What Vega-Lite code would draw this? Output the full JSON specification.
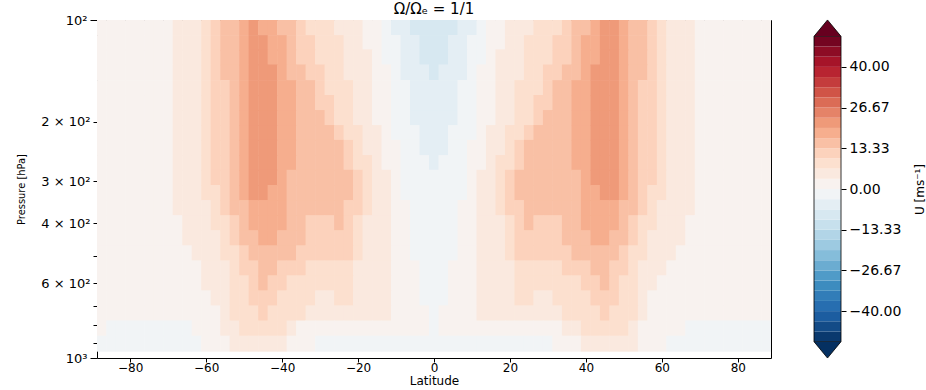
{
"$schema": "https://vega.github.io/schema/vega-lite/v6.json",
"padding": {"left": 15, "top": 1, "right": 0, "bottom": 0},
"background": "white",
"config": {"font": "DejaVu Sans", "view": {"stroke": "#000", "strokeWidth": 1}, "axis": {"domain": false, "grid": false, "tickColor": "#000", "labelColor": "#000", "titleColor": "#000", "titleFontWeight": "normal", "labelOverlap": false, "labelFlush": false}},
"spacing": 43,
"bounds": "flush",
"hconcat": [
{
"width": 674, "height": 338,
"title": {"text": "Ω/Ωₑ = 1/1", "fontSize": 15, "fontWeight": "normal", "offset": -3, "anchor": "middle", "color": "#000"},
"data": {"values": [
{"lat":-87.5,"p":105,"u":2},{"lat":-85,"p":105,"u":2},{"lat":-82.5,"p":105,"u":2},{"lat":-80,"p":105,"u":2},{"lat":-77.5,"p":105,"u":2},{"lat":-75,"p":105,"u":2},{"lat":-72.5,"p":105,"u":2},{"lat":-70,"p":105,"u":2},{"lat":-67.5,"p":105,"u":5},{"lat":-65,"p":105,"u":5},
{"lat":-62.5,"p":105,"u":5},{"lat":-60,"p":105,"u":8},{"lat":-57.5,"p":105,"u":12},{"lat":-55,"p":105,"u":15},{"lat":-52.5,"p":105,"u":15},{"lat":-50,"p":105,"u":18},{"lat":-47.5,"p":105,"u":22},{"lat":-45,"p":105,"u":18},{"lat":-42.5,"p":105,"u":18},{"lat":-40,"p":105,"u":15},
{"lat":-37.5,"p":105,"u":15},{"lat":-35,"p":105,"u":12},{"lat":-32.5,"p":105,"u":8},{"lat":-30,"p":105,"u":8},{"lat":-27.5,"p":105,"u":8},{"lat":-25,"p":105,"u":5},{"lat":-22.5,"p":105,"u":5},{"lat":-20,"p":105,"u":5},{"lat":-17.5,"p":105,"u":2},{"lat":-15,"p":105,"u":2},
{"lat":-12.5,"p":105,"u":-2},{"lat":-10,"p":105,"u":-5},{"lat":-7.5,"p":105,"u":-5},{"lat":-5,"p":105,"u":-8},{"lat":-2.5,"p":105,"u":-8},{"lat":0,"p":105,"u":-8},{"lat":2.5,"p":105,"u":-8},{"lat":5,"p":105,"u":-8},{"lat":7.5,"p":105,"u":-5},{"lat":10,"p":105,"u":-5},
{"lat":12.5,"p":105,"u":-2},{"lat":15,"p":105,"u":2},{"lat":17.5,"p":105,"u":2},{"lat":20,"p":105,"u":5},{"lat":22.5,"p":105,"u":5},{"lat":25,"p":105,"u":5},{"lat":27.5,"p":105,"u":8},{"lat":30,"p":105,"u":8},{"lat":32.5,"p":105,"u":8},{"lat":35,"p":105,"u":12},
{"lat":37.5,"p":105,"u":15},{"lat":40,"p":105,"u":15},{"lat":42.5,"p":105,"u":18},{"lat":45,"p":105,"u":22},{"lat":47.5,"p":105,"u":22},{"lat":50,"p":105,"u":18},{"lat":52.5,"p":105,"u":15},{"lat":55,"p":105,"u":15},{"lat":57.5,"p":105,"u":12},{"lat":60,"p":105,"u":8},
{"lat":62.5,"p":105,"u":5},{"lat":65,"p":105,"u":5},{"lat":67.5,"p":105,"u":5},{"lat":70,"p":105,"u":2},{"lat":72.5,"p":105,"u":2},{"lat":75,"p":105,"u":2},{"lat":77.5,"p":105,"u":2},{"lat":80,"p":105,"u":2},{"lat":82.5,"p":105,"u":2},{"lat":85,"p":105,"u":2},{"lat":87.5,"p":105,"u":2},

{"lat":-87.5,"p":117,"u":2},{"lat":-85,"p":117,"u":2},{"lat":-82.5,"p":117,"u":2},{"lat":-80,"p":117,"u":2},{"lat":-77.5,"p":117,"u":2},{"lat":-75,"p":117,"u":2},{"lat":-72.5,"p":117,"u":2},{"lat":-70,"p":117,"u":2},{"lat":-67.5,"p":117,"u":5},{"lat":-65,"p":117,"u":5},
{"lat":-62.5,"p":117,"u":5},{"lat":-60,"p":117,"u":8},{"lat":-57.5,"p":117,"u":12},{"lat":-55,"p":117,"u":15},{"lat":-52.5,"p":117,"u":15},{"lat":-50,"p":117,"u":18},{"lat":-47.5,"p":117,"u":22},{"lat":-45,"p":117,"u":22},{"lat":-42.5,"p":117,"u":18},{"lat":-40,"p":117,"u":18},
{"lat":-37.5,"p":117,"u":15},{"lat":-35,"p":117,"u":12},{"lat":-32.5,"p":117,"u":12},{"lat":-30,"p":117,"u":8},{"lat":-27.5,"p":117,"u":8},{"lat":-25,"p":117,"u":8},{"lat":-22.5,"p":117,"u":5},{"lat":-20,"p":117,"u":5},{"lat":-17.5,"p":117,"u":2},{"lat":-15,"p":117,"u":2},
{"lat":-12.5,"p":117,"u":-2},{"lat":-10,"p":117,"u":-2},{"lat":-7.5,"p":117,"u":-5},{"lat":-5,"p":117,"u":-5},{"lat":-2.5,"p":117,"u":-8},{"lat":0,"p":117,"u":-8},{"lat":2.5,"p":117,"u":-8},{"lat":5,"p":117,"u":-5},{"lat":7.5,"p":117,"u":-5},{"lat":10,"p":117,"u":-2},
{"lat":12.5,"p":117,"u":-2},{"lat":15,"p":117,"u":2},{"lat":17.5,"p":117,"u":2},{"lat":20,"p":117,"u":5},{"lat":22.5,"p":117,"u":5},{"lat":25,"p":117,"u":8},{"lat":27.5,"p":117,"u":8},{"lat":30,"p":117,"u":8},{"lat":32.5,"p":117,"u":12},{"lat":35,"p":117,"u":12},
{"lat":37.5,"p":117,"u":15},{"lat":40,"p":117,"u":18},{"lat":42.5,"p":117,"u":18},{"lat":45,"p":117,"u":22},{"lat":47.5,"p":117,"u":22},{"lat":50,"p":117,"u":18},{"lat":52.5,"p":117,"u":15},{"lat":55,"p":117,"u":15},{"lat":57.5,"p":117,"u":12},{"lat":60,"p":117,"u":8},
{"lat":62.5,"p":117,"u":5},{"lat":65,"p":117,"u":5},{"lat":67.5,"p":117,"u":5},{"lat":70,"p":117,"u":2},{"lat":72.5,"p":117,"u":2},{"lat":75,"p":117,"u":2},{"lat":77.5,"p":117,"u":2},{"lat":80,"p":117,"u":2},{"lat":82.5,"p":117,"u":2},{"lat":85,"p":117,"u":2},{"lat":87.5,"p":117,"u":2},

{"lat":-87.5,"p":129,"u":2},{"lat":-85,"p":129,"u":2},{"lat":-82.5,"p":129,"u":2},{"lat":-80,"p":129,"u":2},{"lat":-77.5,"p":129,"u":2},{"lat":-75,"p":129,"u":2},{"lat":-72.5,"p":129,"u":2},{"lat":-70,"p":129,"u":2},{"lat":-67.5,"p":129,"u":5},{"lat":-65,"p":129,"u":5},
{"lat":-62.5,"p":129,"u":5},{"lat":-60,"p":129,"u":8},{"lat":-57.5,"p":129,"u":12},{"lat":-55,"p":129,"u":15},{"lat":-52.5,"p":129,"u":15},{"lat":-50,"p":129,"u":18},{"lat":-47.5,"p":129,"u":22},{"lat":-45,"p":129,"u":22},{"lat":-42.5,"p":129,"u":18},{"lat":-40,"p":129,"u":18},
{"lat":-37.5,"p":129,"u":15},{"lat":-35,"p":129,"u":12},{"lat":-32.5,"p":129,"u":12},{"lat":-30,"p":129,"u":8},{"lat":-27.5,"p":129,"u":8},{"lat":-25,"p":129,"u":8},{"lat":-22.5,"p":129,"u":5},{"lat":-20,"p":129,"u":5},{"lat":-17.5,"p":129,"u":5},{"lat":-15,"p":129,"u":2},
{"lat":-12.5,"p":129,"u":-2},{"lat":-10,"p":129,"u":-2},{"lat":-7.5,"p":129,"u":-5},{"lat":-5,"p":129,"u":-5},{"lat":-2.5,"p":129,"u":-8},{"lat":0,"p":129,"u":-8},{"lat":2.5,"p":129,"u":-8},{"lat":5,"p":129,"u":-5},{"lat":7.5,"p":129,"u":-5},{"lat":10,"p":129,"u":-2},
{"lat":12.5,"p":129,"u":-2},{"lat":15,"p":129,"u":2},{"lat":17.5,"p":129,"u":5},{"lat":20,"p":129,"u":5},{"lat":22.5,"p":129,"u":5},{"lat":25,"p":129,"u":8},{"lat":27.5,"p":129,"u":8},{"lat":30,"p":129,"u":8},{"lat":32.5,"p":129,"u":12},{"lat":35,"p":129,"u":12},
{"lat":37.5,"p":129,"u":15},{"lat":40,"p":129,"u":18},{"lat":42.5,"p":129,"u":18},{"lat":45,"p":129,"u":22},{"lat":47.5,"p":129,"u":22},{"lat":50,"p":129,"u":18},{"lat":52.5,"p":129,"u":15},{"lat":55,"p":129,"u":15},{"lat":57.5,"p":129,"u":12},{"lat":60,"p":129,"u":8},
{"lat":62.5,"p":129,"u":5},{"lat":65,"p":129,"u":5},{"lat":67.5,"p":129,"u":5},{"lat":70,"p":129,"u":2},{"lat":72.5,"p":129,"u":2},{"lat":75,"p":129,"u":2},{"lat":77.5,"p":129,"u":2},{"lat":80,"p":129,"u":2},{"lat":82.5,"p":129,"u":2},{"lat":85,"p":129,"u":2},{"lat":87.5,"p":129,"u":2},

{"lat":-87.5,"p":143,"u":2},{"lat":-85,"p":143,"u":2},{"lat":-82.5,"p":143,"u":2},{"lat":-80,"p":143,"u":2},{"lat":-77.5,"p":143,"u":2},{"lat":-75,"p":143,"u":2},{"lat":-72.5,"p":143,"u":2},{"lat":-70,"p":143,"u":2},{"lat":-67.5,"p":143,"u":5},{"lat":-65,"p":143,"u":5},
{"lat":-62.5,"p":143,"u":5},{"lat":-60,"p":143,"u":8},{"lat":-57.5,"p":143,"u":12},{"lat":-55,"p":143,"u":15},{"lat":-52.5,"p":143,"u":15},{"lat":-50,"p":143,"u":18},{"lat":-47.5,"p":143,"u":22},{"lat":-45,"p":143,"u":22},{"lat":-42.5,"p":143,"u":22},{"lat":-40,"p":143,"u":18},
{"lat":-37.5,"p":143,"u":15},{"lat":-35,"p":143,"u":15},{"lat":-32.5,"p":143,"u":12},{"lat":-30,"p":143,"u":12},{"lat":-27.5,"p":143,"u":8},{"lat":-25,"p":143,"u":8},{"lat":-22.5,"p":143,"u":5},{"lat":-20,"p":143,"u":5},{"lat":-17.5,"p":143,"u":5},{"lat":-15,"p":143,"u":2},
{"lat":-12.5,"p":143,"u":2},{"lat":-10,"p":143,"u":-2},{"lat":-7.5,"p":143,"u":-5},{"lat":-5,"p":143,"u":-5},{"lat":-2.5,"p":143,"u":-5},{"lat":0,"p":143,"u":-8},{"lat":2.5,"p":143,"u":-5},{"lat":5,"p":143,"u":-5},{"lat":7.5,"p":143,"u":-5},{"lat":10,"p":143,"u":-2},
{"lat":12.5,"p":143,"u":2},{"lat":15,"p":143,"u":2},{"lat":17.5,"p":143,"u":5},{"lat":20,"p":143,"u":5},{"lat":22.5,"p":143,"u":5},{"lat":25,"p":143,"u":8},{"lat":27.5,"p":143,"u":8},{"lat":30,"p":143,"u":12},{"lat":32.5,"p":143,"u":12},{"lat":35,"p":143,"u":15},
{"lat":37.5,"p":143,"u":15},{"lat":40,"p":143,"u":18},{"lat":42.5,"p":143,"u":22},{"lat":45,"p":143,"u":22},{"lat":47.5,"p":143,"u":22},{"lat":50,"p":143,"u":18},{"lat":52.5,"p":143,"u":15},{"lat":55,"p":143,"u":15},{"lat":57.5,"p":143,"u":12},{"lat":60,"p":143,"u":8},
{"lat":62.5,"p":143,"u":5},{"lat":65,"p":143,"u":5},{"lat":67.5,"p":143,"u":5},{"lat":70,"p":143,"u":2},{"lat":72.5,"p":143,"u":2},{"lat":75,"p":143,"u":2},{"lat":77.5,"p":143,"u":2},{"lat":80,"p":143,"u":2},{"lat":82.5,"p":143,"u":2},{"lat":85,"p":143,"u":2},{"lat":87.5,"p":143,"u":2},

{"lat":-87.5,"p":159,"u":2},{"lat":-85,"p":159,"u":2},{"lat":-82.5,"p":159,"u":2},{"lat":-80,"p":159,"u":2},{"lat":-77.5,"p":159,"u":2},{"lat":-75,"p":159,"u":2},{"lat":-72.5,"p":159,"u":2},{"lat":-70,"p":159,"u":2},{"lat":-67.5,"p":159,"u":5},{"lat":-65,"p":159,"u":5},
{"lat":-62.5,"p":159,"u":5},{"lat":-60,"p":159,"u":8},{"lat":-57.5,"p":159,"u":12},{"lat":-55,"p":159,"u":12},{"lat":-52.5,"p":159,"u":15},{"lat":-50,"p":159,"u":18},{"lat":-47.5,"p":159,"u":22},{"lat":-45,"p":159,"u":22},{"lat":-42.5,"p":159,"u":22},{"lat":-40,"p":159,"u":18},
{"lat":-37.5,"p":159,"u":18},{"lat":-35,"p":159,"u":15},{"lat":-32.5,"p":159,"u":15},{"lat":-30,"p":159,"u":12},{"lat":-27.5,"p":159,"u":8},{"lat":-25,"p":159,"u":8},{"lat":-22.5,"p":159,"u":8},{"lat":-20,"p":159,"u":5},{"lat":-17.5,"p":159,"u":5},{"lat":-15,"p":159,"u":2},
{"lat":-12.5,"p":159,"u":2},{"lat":-10,"p":159,"u":-2},{"lat":-7.5,"p":159,"u":-2},{"lat":-5,"p":159,"u":-5},{"lat":-2.5,"p":159,"u":-5},{"lat":0,"p":159,"u":-5},{"lat":2.5,"p":159,"u":-5},{"lat":5,"p":159,"u":-5},{"lat":7.5,"p":159,"u":-2},{"lat":10,"p":159,"u":-2},
{"lat":12.5,"p":159,"u":2},{"lat":15,"p":159,"u":2},{"lat":17.5,"p":159,"u":5},{"lat":20,"p":159,"u":5},{"lat":22.5,"p":159,"u":8},{"lat":25,"p":159,"u":8},{"lat":27.5,"p":159,"u":8},{"lat":30,"p":159,"u":12},{"lat":32.5,"p":159,"u":15},{"lat":35,"p":159,"u":15},
{"lat":37.5,"p":159,"u":18},{"lat":40,"p":159,"u":18},{"lat":42.5,"p":159,"u":22},{"lat":45,"p":159,"u":22},{"lat":47.5,"p":159,"u":22},{"lat":50,"p":159,"u":18},{"lat":52.5,"p":159,"u":15},{"lat":55,"p":159,"u":12},{"lat":57.5,"p":159,"u":12},{"lat":60,"p":159,"u":8},
{"lat":62.5,"p":159,"u":5},{"lat":65,"p":159,"u":5},{"lat":67.5,"p":159,"u":5},{"lat":70,"p":159,"u":2},{"lat":72.5,"p":159,"u":2},{"lat":75,"p":159,"u":2},{"lat":77.5,"p":159,"u":2},{"lat":80,"p":159,"u":2},{"lat":82.5,"p":159,"u":2},{"lat":85,"p":159,"u":2},{"lat":87.5,"p":159,"u":2},

{"lat":-87.5,"p":176,"u":2},{"lat":-85,"p":176,"u":2},{"lat":-82.5,"p":176,"u":2},{"lat":-80,"p":176,"u":2},{"lat":-77.5,"p":176,"u":2},{"lat":-75,"p":176,"u":2},{"lat":-72.5,"p":176,"u":2},{"lat":-70,"p":176,"u":2},{"lat":-67.5,"p":176,"u":5},{"lat":-65,"p":176,"u":5},
{"lat":-62.5,"p":176,"u":5},{"lat":-60,"p":176,"u":8},{"lat":-57.5,"p":176,"u":12},{"lat":-55,"p":176,"u":12},{"lat":-52.5,"p":176,"u":15},{"lat":-50,"p":176,"u":18},{"lat":-47.5,"p":176,"u":22},{"lat":-45,"p":176,"u":22},{"lat":-42.5,"p":176,"u":22},{"lat":-40,"p":176,"u":18},
{"lat":-37.5,"p":176,"u":18},{"lat":-35,"p":176,"u":15},{"lat":-32.5,"p":176,"u":15},{"lat":-30,"p":176,"u":12},{"lat":-27.5,"p":176,"u":12},{"lat":-25,"p":176,"u":8},{"lat":-22.5,"p":176,"u":8},{"lat":-20,"p":176,"u":5},{"lat":-17.5,"p":176,"u":5},{"lat":-15,"p":176,"u":2},
{"lat":-12.5,"p":176,"u":2},{"lat":-10,"p":176,"u":-2},{"lat":-7.5,"p":176,"u":-2},{"lat":-5,"p":176,"u":-5},{"lat":-2.5,"p":176,"u":-5},{"lat":0,"p":176,"u":-5},{"lat":2.5,"p":176,"u":-5},{"lat":5,"p":176,"u":-5},{"lat":7.5,"p":176,"u":-2},{"lat":10,"p":176,"u":-2},
{"lat":12.5,"p":176,"u":2},{"lat":15,"p":176,"u":2},{"lat":17.5,"p":176,"u":5},{"lat":20,"p":176,"u":5},{"lat":22.5,"p":176,"u":8},{"lat":25,"p":176,"u":8},{"lat":27.5,"p":176,"u":12},{"lat":30,"p":176,"u":12},{"lat":32.5,"p":176,"u":15},{"lat":35,"p":176,"u":15},
{"lat":37.5,"p":176,"u":18},{"lat":40,"p":176,"u":18},{"lat":42.5,"p":176,"u":22},{"lat":45,"p":176,"u":22},{"lat":47.5,"p":176,"u":22},{"lat":50,"p":176,"u":18},{"lat":52.5,"p":176,"u":15},{"lat":55,"p":176,"u":12},{"lat":57.5,"p":176,"u":12},{"lat":60,"p":176,"u":8},
{"lat":62.5,"p":176,"u":5},{"lat":65,"p":176,"u":5},{"lat":67.5,"p":176,"u":5},{"lat":70,"p":176,"u":2},{"lat":72.5,"p":176,"u":2},{"lat":75,"p":176,"u":2},{"lat":77.5,"p":176,"u":2},{"lat":80,"p":176,"u":2},{"lat":82.5,"p":176,"u":2},{"lat":85,"p":176,"u":2},{"lat":87.5,"p":176,"u":2},

{"lat":-87.5,"p":195,"u":2},{"lat":-85,"p":195,"u":2},{"lat":-82.5,"p":195,"u":2},{"lat":-80,"p":195,"u":2},{"lat":-77.5,"p":195,"u":2},{"lat":-75,"p":195,"u":2},{"lat":-72.5,"p":195,"u":2},{"lat":-70,"p":195,"u":2},{"lat":-67.5,"p":195,"u":5},{"lat":-65,"p":195,"u":5},
{"lat":-62.5,"p":195,"u":5},{"lat":-60,"p":195,"u":8},{"lat":-57.5,"p":195,"u":12},{"lat":-55,"p":195,"u":12},{"lat":-52.5,"p":195,"u":15},{"lat":-50,"p":195,"u":18},{"lat":-47.5,"p":195,"u":22},{"lat":-45,"p":195,"u":22},{"lat":-42.5,"p":195,"u":22},{"lat":-40,"p":195,"u":18},
{"lat":-37.5,"p":195,"u":18},{"lat":-35,"p":195,"u":15},{"lat":-32.5,"p":195,"u":15},{"lat":-30,"p":195,"u":15},{"lat":-27.5,"p":195,"u":12},{"lat":-25,"p":195,"u":8},{"lat":-22.5,"p":195,"u":8},{"lat":-20,"p":195,"u":5},{"lat":-17.5,"p":195,"u":5},{"lat":-15,"p":195,"u":2},
{"lat":-12.5,"p":195,"u":2},{"lat":-10,"p":195,"u":-2},{"lat":-7.5,"p":195,"u":-2},{"lat":-5,"p":195,"u":-5},{"lat":-2.5,"p":195,"u":-5},{"lat":0,"p":195,"u":-5},{"lat":2.5,"p":195,"u":-5},{"lat":5,"p":195,"u":-5},{"lat":7.5,"p":195,"u":-2},{"lat":10,"p":195,"u":-2},
{"lat":12.5,"p":195,"u":2},{"lat":15,"p":195,"u":2},{"lat":17.5,"p":195,"u":5},{"lat":20,"p":195,"u":5},{"lat":22.5,"p":195,"u":8},{"lat":25,"p":195,"u":8},{"lat":27.5,"p":195,"u":12},{"lat":30,"p":195,"u":15},{"lat":32.5,"p":195,"u":15},{"lat":35,"p":195,"u":15},
{"lat":37.5,"p":195,"u":18},{"lat":40,"p":195,"u":18},{"lat":42.5,"p":195,"u":22},{"lat":45,"p":195,"u":22},{"lat":47.5,"p":195,"u":22},{"lat":50,"p":195,"u":18},{"lat":52.5,"p":195,"u":15},{"lat":55,"p":195,"u":12},{"lat":57.5,"p":195,"u":12},{"lat":60,"p":195,"u":8},
{"lat":62.5,"p":195,"u":5},{"lat":65,"p":195,"u":5},{"lat":67.5,"p":195,"u":5},{"lat":70,"p":195,"u":2},{"lat":72.5,"p":195,"u":2},{"lat":75,"p":195,"u":2},{"lat":77.5,"p":195,"u":2},{"lat":80,"p":195,"u":2},{"lat":82.5,"p":195,"u":2},{"lat":85,"p":195,"u":2},{"lat":87.5,"p":195,"u":2},

{"lat":-87.5,"p":216,"u":2},{"lat":-85,"p":216,"u":2},{"lat":-82.5,"p":216,"u":2},{"lat":-80,"p":216,"u":2},{"lat":-77.5,"p":216,"u":2},{"lat":-75,"p":216,"u":2},{"lat":-72.5,"p":216,"u":2},{"lat":-70,"p":216,"u":2},{"lat":-67.5,"p":216,"u":5},{"lat":-65,"p":216,"u":5},
{"lat":-62.5,"p":216,"u":5},{"lat":-60,"p":216,"u":8},{"lat":-57.5,"p":216,"u":12},{"lat":-55,"p":216,"u":12},{"lat":-52.5,"p":216,"u":15},{"lat":-50,"p":216,"u":18},{"lat":-47.5,"p":216,"u":22},{"lat":-45,"p":216,"u":22},{"lat":-42.5,"p":216,"u":22},{"lat":-40,"p":216,"u":18},
{"lat":-37.5,"p":216,"u":18},{"lat":-35,"p":216,"u":15},{"lat":-32.5,"p":216,"u":15},{"lat":-30,"p":216,"u":15},{"lat":-27.5,"p":216,"u":15},{"lat":-25,"p":216,"u":12},{"lat":-22.5,"p":216,"u":8},{"lat":-20,"p":216,"u":8},{"lat":-17.5,"p":216,"u":5},{"lat":-15,"p":216,"u":5},
{"lat":-12.5,"p":216,"u":2},{"lat":-10,"p":216,"u":-2},{"lat":-7.5,"p":216,"u":-2},{"lat":-5,"p":216,"u":-2},{"lat":-2.5,"p":216,"u":-5},{"lat":0,"p":216,"u":-5},{"lat":2.5,"p":216,"u":-5},{"lat":5,"p":216,"u":-2},{"lat":7.5,"p":216,"u":-2},{"lat":10,"p":216,"u":-2},
{"lat":12.5,"p":216,"u":2},{"lat":15,"p":216,"u":5},{"lat":17.5,"p":216,"u":5},{"lat":20,"p":216,"u":8},{"lat":22.5,"p":216,"u":8},{"lat":25,"p":216,"u":12},{"lat":27.5,"p":216,"u":15},{"lat":30,"p":216,"u":15},{"lat":32.5,"p":216,"u":15},{"lat":35,"p":216,"u":15},
{"lat":37.5,"p":216,"u":18},{"lat":40,"p":216,"u":18},{"lat":42.5,"p":216,"u":22},{"lat":45,"p":216,"u":22},{"lat":47.5,"p":216,"u":22},{"lat":50,"p":216,"u":18},{"lat":52.5,"p":216,"u":15},{"lat":55,"p":216,"u":12},{"lat":57.5,"p":216,"u":12},{"lat":60,"p":216,"u":8},
{"lat":62.5,"p":216,"u":5},{"lat":65,"p":216,"u":5},{"lat":67.5,"p":216,"u":5},{"lat":70,"p":216,"u":2},{"lat":72.5,"p":216,"u":2},{"lat":75,"p":216,"u":2},{"lat":77.5,"p":216,"u":2},{"lat":80,"p":216,"u":2},{"lat":82.5,"p":216,"u":2},{"lat":85,"p":216,"u":2},{"lat":87.5,"p":216,"u":2},

{"lat":-87.5,"p":239,"u":2},{"lat":-85,"p":239,"u":2},{"lat":-82.5,"p":239,"u":2},{"lat":-80,"p":239,"u":2},{"lat":-77.5,"p":239,"u":2},{"lat":-75,"p":239,"u":2},{"lat":-72.5,"p":239,"u":2},{"lat":-70,"p":239,"u":2},{"lat":-67.5,"p":239,"u":5},{"lat":-65,"p":239,"u":5},
{"lat":-62.5,"p":239,"u":5},{"lat":-60,"p":239,"u":8},{"lat":-57.5,"p":239,"u":12},{"lat":-55,"p":239,"u":12},{"lat":-52.5,"p":239,"u":15},{"lat":-50,"p":239,"u":18},{"lat":-47.5,"p":239,"u":22},{"lat":-45,"p":239,"u":22},{"lat":-42.5,"p":239,"u":22},{"lat":-40,"p":239,"u":18},
{"lat":-37.5,"p":239,"u":18},{"lat":-35,"p":239,"u":15},{"lat":-32.5,"p":239,"u":15},{"lat":-30,"p":239,"u":15},{"lat":-27.5,"p":239,"u":15},{"lat":-25,"p":239,"u":15},{"lat":-22.5,"p":239,"u":12},{"lat":-20,"p":239,"u":8},{"lat":-17.5,"p":239,"u":5},{"lat":-15,"p":239,"u":5},
{"lat":-12.5,"p":239,"u":2},{"lat":-10,"p":239,"u":2},{"lat":-7.5,"p":239,"u":-2},{"lat":-5,"p":239,"u":-2},{"lat":-2.5,"p":239,"u":-5},{"lat":0,"p":239,"u":-5},{"lat":2.5,"p":239,"u":-5},{"lat":5,"p":239,"u":-2},{"lat":7.5,"p":239,"u":-2},{"lat":10,"p":239,"u":2},
{"lat":12.5,"p":239,"u":2},{"lat":15,"p":239,"u":5},{"lat":17.5,"p":239,"u":5},{"lat":20,"p":239,"u":8},{"lat":22.5,"p":239,"u":12},{"lat":25,"p":239,"u":15},{"lat":27.5,"p":239,"u":15},{"lat":30,"p":239,"u":15},{"lat":32.5,"p":239,"u":15},{"lat":35,"p":239,"u":15},
{"lat":37.5,"p":239,"u":18},{"lat":40,"p":239,"u":18},{"lat":42.5,"p":239,"u":22},{"lat":45,"p":239,"u":22},{"lat":47.5,"p":239,"u":22},{"lat":50,"p":239,"u":18},{"lat":52.5,"p":239,"u":15},{"lat":55,"p":239,"u":12},{"lat":57.5,"p":239,"u":12},{"lat":60,"p":239,"u":8},
{"lat":62.5,"p":239,"u":5},{"lat":65,"p":239,"u":5},{"lat":67.5,"p":239,"u":5},{"lat":70,"p":239,"u":2},{"lat":72.5,"p":239,"u":2},{"lat":75,"p":239,"u":2},{"lat":77.5,"p":239,"u":2},{"lat":80,"p":239,"u":2},{"lat":82.5,"p":239,"u":2},{"lat":85,"p":239,"u":2},{"lat":87.5,"p":239,"u":2},

{"lat":-87.5,"p":265,"u":2},{"lat":-85,"p":265,"u":2},{"lat":-82.5,"p":265,"u":2},{"lat":-80,"p":265,"u":2},{"lat":-77.5,"p":265,"u":2},{"lat":-75,"p":265,"u":2},{"lat":-72.5,"p":265,"u":2},{"lat":-70,"p":265,"u":2},{"lat":-67.5,"p":265,"u":5},{"lat":-65,"p":265,"u":5},
{"lat":-62.5,"p":265,"u":5},{"lat":-60,"p":265,"u":8},{"lat":-57.5,"p":265,"u":12},{"lat":-55,"p":265,"u":12},{"lat":-52.5,"p":265,"u":15},{"lat":-50,"p":265,"u":18},{"lat":-47.5,"p":265,"u":22},{"lat":-45,"p":265,"u":22},{"lat":-42.5,"p":265,"u":22},{"lat":-40,"p":265,"u":18},
{"lat":-37.5,"p":265,"u":18},{"lat":-35,"p":265,"u":15},{"lat":-32.5,"p":265,"u":15},{"lat":-30,"p":265,"u":15},{"lat":-27.5,"p":265,"u":15},{"lat":-25,"p":265,"u":15},{"lat":-22.5,"p":265,"u":12},{"lat":-20,"p":265,"u":8},{"lat":-17.5,"p":265,"u":8},{"lat":-15,"p":265,"u":5},
{"lat":-12.5,"p":265,"u":2},{"lat":-10,"p":265,"u":2},{"lat":-7.5,"p":265,"u":-2},{"lat":-5,"p":265,"u":-2},{"lat":-2.5,"p":265,"u":-2},{"lat":0,"p":265,"u":-5},{"lat":2.5,"p":265,"u":-2},{"lat":5,"p":265,"u":-2},{"lat":7.5,"p":265,"u":-2},{"lat":10,"p":265,"u":2},
{"lat":12.5,"p":265,"u":2},{"lat":15,"p":265,"u":5},{"lat":17.5,"p":265,"u":8},{"lat":20,"p":265,"u":8},{"lat":22.5,"p":265,"u":12},{"lat":25,"p":265,"u":15},{"lat":27.5,"p":265,"u":15},{"lat":30,"p":265,"u":15},{"lat":32.5,"p":265,"u":15},{"lat":35,"p":265,"u":15},
{"lat":37.5,"p":265,"u":18},{"lat":40,"p":265,"u":18},{"lat":42.5,"p":265,"u":22},{"lat":45,"p":265,"u":22},{"lat":47.5,"p":265,"u":22},{"lat":50,"p":265,"u":18},{"lat":52.5,"p":265,"u":15},{"lat":55,"p":265,"u":12},{"lat":57.5,"p":265,"u":12},{"lat":60,"p":265,"u":8},
{"lat":62.5,"p":265,"u":5},{"lat":65,"p":265,"u":5},{"lat":67.5,"p":265,"u":5},{"lat":70,"p":265,"u":2},{"lat":72.5,"p":265,"u":2},{"lat":75,"p":265,"u":2},{"lat":77.5,"p":265,"u":2},{"lat":80,"p":265,"u":2},{"lat":82.5,"p":265,"u":2},{"lat":85,"p":265,"u":2},{"lat":87.5,"p":265,"u":2},

{"lat":-87.5,"p":293,"u":2},{"lat":-85,"p":293,"u":2},{"lat":-82.5,"p":293,"u":2},{"lat":-80,"p":293,"u":2},{"lat":-77.5,"p":293,"u":2},{"lat":-75,"p":293,"u":2},{"lat":-72.5,"p":293,"u":2},{"lat":-70,"p":293,"u":2},{"lat":-67.5,"p":293,"u":5},{"lat":-65,"p":293,"u":5},
{"lat":-62.5,"p":293,"u":5},{"lat":-60,"p":293,"u":8},{"lat":-57.5,"p":293,"u":12},{"lat":-55,"p":293,"u":12},{"lat":-52.5,"p":293,"u":15},{"lat":-50,"p":293,"u":18},{"lat":-47.5,"p":293,"u":22},{"lat":-45,"p":293,"u":22},{"lat":-42.5,"p":293,"u":22},{"lat":-40,"p":293,"u":18},
{"lat":-37.5,"p":293,"u":15},{"lat":-35,"p":293,"u":15},{"lat":-32.5,"p":293,"u":15},{"lat":-30,"p":293,"u":15},{"lat":-27.5,"p":293,"u":15},{"lat":-25,"p":293,"u":15},{"lat":-22.5,"p":293,"u":15},{"lat":-20,"p":293,"u":12},{"lat":-17.5,"p":293,"u":8},{"lat":-15,"p":293,"u":5},
{"lat":-12.5,"p":293,"u":5},{"lat":-10,"p":293,"u":2},{"lat":-7.5,"p":293,"u":-2},{"lat":-5,"p":293,"u":-2},{"lat":-2.5,"p":293,"u":-2},{"lat":0,"p":293,"u":-2},{"lat":2.5,"p":293,"u":-2},{"lat":5,"p":293,"u":-2},{"lat":7.5,"p":293,"u":-2},{"lat":10,"p":293,"u":2},
{"lat":12.5,"p":293,"u":5},{"lat":15,"p":293,"u":5},{"lat":17.5,"p":293,"u":8},{"lat":20,"p":293,"u":12},{"lat":22.5,"p":293,"u":15},{"lat":25,"p":293,"u":15},{"lat":27.5,"p":293,"u":15},{"lat":30,"p":293,"u":15},{"lat":32.5,"p":293,"u":15},{"lat":35,"p":293,"u":15},
{"lat":37.5,"p":293,"u":15},{"lat":40,"p":293,"u":18},{"lat":42.5,"p":293,"u":22},{"lat":45,"p":293,"u":22},{"lat":47.5,"p":293,"u":22},{"lat":50,"p":293,"u":18},{"lat":52.5,"p":293,"u":15},{"lat":55,"p":293,"u":12},{"lat":57.5,"p":293,"u":12},{"lat":60,"p":293,"u":8},
{"lat":62.5,"p":293,"u":5},{"lat":65,"p":293,"u":5},{"lat":67.5,"p":293,"u":5},{"lat":70,"p":293,"u":2},{"lat":72.5,"p":293,"u":2},{"lat":75,"p":293,"u":2},{"lat":77.5,"p":293,"u":2},{"lat":80,"p":293,"u":2},{"lat":82.5,"p":293,"u":2},{"lat":85,"p":293,"u":2},{"lat":87.5,"p":293,"u":2},

{"lat":-87.5,"p":325,"u":2},{"lat":-85,"p":325,"u":2},{"lat":-82.5,"p":325,"u":2},{"lat":-80,"p":325,"u":2},{"lat":-77.5,"p":325,"u":2},{"lat":-75,"p":325,"u":2},{"lat":-72.5,"p":325,"u":2},{"lat":-70,"p":325,"u":2},{"lat":-67.5,"p":325,"u":5},{"lat":-65,"p":325,"u":5},
{"lat":-62.5,"p":325,"u":5},{"lat":-60,"p":325,"u":8},{"lat":-57.5,"p":325,"u":8},{"lat":-55,"p":325,"u":12},{"lat":-52.5,"p":325,"u":15},{"lat":-50,"p":325,"u":18},{"lat":-47.5,"p":325,"u":22},{"lat":-45,"p":325,"u":22},{"lat":-42.5,"p":325,"u":18},{"lat":-40,"p":325,"u":18},
{"lat":-37.5,"p":325,"u":15},{"lat":-35,"p":325,"u":15},{"lat":-32.5,"p":325,"u":15},{"lat":-30,"p":325,"u":15},{"lat":-27.5,"p":325,"u":15},{"lat":-25,"p":325,"u":15},{"lat":-22.5,"p":325,"u":15},{"lat":-20,"p":325,"u":12},{"lat":-17.5,"p":325,"u":8},{"lat":-15,"p":325,"u":5},
{"lat":-12.5,"p":325,"u":5},{"lat":-10,"p":325,"u":2},{"lat":-7.5,"p":325,"u":-2},{"lat":-5,"p":325,"u":-2},{"lat":-2.5,"p":325,"u":-2},{"lat":0,"p":325,"u":-2},{"lat":2.5,"p":325,"u":-2},{"lat":5,"p":325,"u":-2},{"lat":7.5,"p":325,"u":-2},{"lat":10,"p":325,"u":2},
{"lat":12.5,"p":325,"u":5},{"lat":15,"p":325,"u":5},{"lat":17.5,"p":325,"u":8},{"lat":20,"p":325,"u":12},{"lat":22.5,"p":325,"u":15},{"lat":25,"p":325,"u":15},{"lat":27.5,"p":325,"u":15},{"lat":30,"p":325,"u":15},{"lat":32.5,"p":325,"u":15},{"lat":35,"p":325,"u":15},
{"lat":37.5,"p":325,"u":15},{"lat":40,"p":325,"u":18},{"lat":42.5,"p":325,"u":18},{"lat":45,"p":325,"u":22},{"lat":47.5,"p":325,"u":22},{"lat":50,"p":325,"u":18},{"lat":52.5,"p":325,"u":15},{"lat":55,"p":325,"u":12},{"lat":57.5,"p":325,"u":8},{"lat":60,"p":325,"u":8},
{"lat":62.5,"p":325,"u":5},{"lat":65,"p":325,"u":5},{"lat":67.5,"p":325,"u":5},{"lat":70,"p":325,"u":2},{"lat":72.5,"p":325,"u":2},{"lat":75,"p":325,"u":2},{"lat":77.5,"p":325,"u":2},{"lat":80,"p":325,"u":2},{"lat":82.5,"p":325,"u":2},{"lat":85,"p":325,"u":2},{"lat":87.5,"p":325,"u":2},

{"lat":-87.5,"p":360,"u":2},{"lat":-85,"p":360,"u":2},{"lat":-82.5,"p":360,"u":2},{"lat":-80,"p":360,"u":2},{"lat":-77.5,"p":360,"u":2},{"lat":-75,"p":360,"u":2},{"lat":-72.5,"p":360,"u":2},{"lat":-70,"p":360,"u":2},{"lat":-67.5,"p":360,"u":5},{"lat":-65,"p":360,"u":5},
{"lat":-62.5,"p":360,"u":5},{"lat":-60,"p":360,"u":5},{"lat":-57.5,"p":360,"u":8},{"lat":-55,"p":360,"u":12},{"lat":-52.5,"p":360,"u":15},{"lat":-50,"p":360,"u":15},{"lat":-47.5,"p":360,"u":18},{"lat":-45,"p":360,"u":18},{"lat":-42.5,"p":360,"u":18},{"lat":-40,"p":360,"u":18},
{"lat":-37.5,"p":360,"u":15},{"lat":-35,"p":360,"u":15},{"lat":-32.5,"p":360,"u":15},{"lat":-30,"p":360,"u":15},{"lat":-27.5,"p":360,"u":15},{"lat":-25,"p":360,"u":15},{"lat":-22.5,"p":360,"u":12},{"lat":-20,"p":360,"u":12},{"lat":-17.5,"p":360,"u":8},{"lat":-15,"p":360,"u":5},
{"lat":-12.5,"p":360,"u":5},{"lat":-10,"p":360,"u":2},{"lat":-7.5,"p":360,"u":2},{"lat":-5,"p":360,"u":-2},{"lat":-2.5,"p":360,"u":-2},{"lat":0,"p":360,"u":-2},{"lat":2.5,"p":360,"u":-2},{"lat":5,"p":360,"u":-2},{"lat":7.5,"p":360,"u":2},{"lat":10,"p":360,"u":2},
{"lat":12.5,"p":360,"u":5},{"lat":15,"p":360,"u":5},{"lat":17.5,"p":360,"u":8},{"lat":20,"p":360,"u":12},{"lat":22.5,"p":360,"u":12},{"lat":25,"p":360,"u":15},{"lat":27.5,"p":360,"u":15},{"lat":30,"p":360,"u":15},{"lat":32.5,"p":360,"u":15},{"lat":35,"p":360,"u":15},
{"lat":37.5,"p":360,"u":15},{"lat":40,"p":360,"u":18},{"lat":42.5,"p":360,"u":18},{"lat":45,"p":360,"u":18},{"lat":47.5,"p":360,"u":18},{"lat":50,"p":360,"u":15},{"lat":52.5,"p":360,"u":15},{"lat":55,"p":360,"u":12},{"lat":57.5,"p":360,"u":8},{"lat":60,"p":360,"u":5},
{"lat":62.5,"p":360,"u":5},{"lat":65,"p":360,"u":5},{"lat":67.5,"p":360,"u":5},{"lat":70,"p":360,"u":2},{"lat":72.5,"p":360,"u":2},{"lat":75,"p":360,"u":2},{"lat":77.5,"p":360,"u":2},{"lat":80,"p":360,"u":2},{"lat":82.5,"p":360,"u":2},{"lat":85,"p":360,"u":2},{"lat":87.5,"p":360,"u":2},

{"lat":-87.5,"p":399,"u":2},{"lat":-85,"p":399,"u":2},{"lat":-82.5,"p":399,"u":2},{"lat":-80,"p":399,"u":2},{"lat":-77.5,"p":399,"u":2},{"lat":-75,"p":399,"u":2},{"lat":-72.5,"p":399,"u":2},{"lat":-70,"p":399,"u":2},{"lat":-67.5,"p":399,"u":2},{"lat":-65,"p":399,"u":5},
{"lat":-62.5,"p":399,"u":5},{"lat":-60,"p":399,"u":5},{"lat":-57.5,"p":399,"u":8},{"lat":-55,"p":399,"u":8},{"lat":-52.5,"p":399,"u":12},{"lat":-50,"p":399,"u":15},{"lat":-47.5,"p":399,"u":18},{"lat":-45,"p":399,"u":18},{"lat":-42.5,"p":399,"u":18},{"lat":-40,"p":399,"u":18},
{"lat":-37.5,"p":399,"u":15},{"lat":-35,"p":399,"u":15},{"lat":-32.5,"p":399,"u":12},{"lat":-30,"p":399,"u":12},{"lat":-27.5,"p":399,"u":12},{"lat":-25,"p":399,"u":15},{"lat":-22.5,"p":399,"u":12},{"lat":-20,"p":399,"u":8},{"lat":-17.5,"p":399,"u":5},{"lat":-15,"p":399,"u":5},
{"lat":-12.5,"p":399,"u":5},{"lat":-10,"p":399,"u":2},{"lat":-7.5,"p":399,"u":2},{"lat":-5,"p":399,"u":-2},{"lat":-2.5,"p":399,"u":-2},{"lat":0,"p":399,"u":-2},{"lat":2.5,"p":399,"u":-2},{"lat":5,"p":399,"u":-2},{"lat":7.5,"p":399,"u":2},{"lat":10,"p":399,"u":2},
{"lat":12.5,"p":399,"u":5},{"lat":15,"p":399,"u":5},{"lat":17.5,"p":399,"u":5},{"lat":20,"p":399,"u":8},{"lat":22.5,"p":399,"u":12},{"lat":25,"p":399,"u":15},{"lat":27.5,"p":399,"u":12},{"lat":30,"p":399,"u":12},{"lat":32.5,"p":399,"u":12},{"lat":35,"p":399,"u":15},
{"lat":37.5,"p":399,"u":15},{"lat":40,"p":399,"u":18},{"lat":42.5,"p":399,"u":18},{"lat":45,"p":399,"u":18},{"lat":47.5,"p":399,"u":18},{"lat":50,"p":399,"u":15},{"lat":52.5,"p":399,"u":12},{"lat":55,"p":399,"u":8},{"lat":57.5,"p":399,"u":8},{"lat":60,"p":399,"u":5},
{"lat":62.5,"p":399,"u":5},{"lat":65,"p":399,"u":5},{"lat":67.5,"p":399,"u":2},{"lat":70,"p":399,"u":2},{"lat":72.5,"p":399,"u":2},{"lat":75,"p":399,"u":2},{"lat":77.5,"p":399,"u":2},{"lat":80,"p":399,"u":2},{"lat":82.5,"p":399,"u":2},{"lat":85,"p":399,"u":2},{"lat":87.5,"p":399,"u":2},

{"lat":-87.5,"p":442,"u":2},{"lat":-85,"p":442,"u":2},{"lat":-82.5,"p":442,"u":2},{"lat":-80,"p":442,"u":2},{"lat":-77.5,"p":442,"u":2},{"lat":-75,"p":442,"u":2},{"lat":-72.5,"p":442,"u":2},{"lat":-70,"p":442,"u":2},{"lat":-67.5,"p":442,"u":2},{"lat":-65,"p":442,"u":5},
{"lat":-62.5,"p":442,"u":5},{"lat":-60,"p":442,"u":5},{"lat":-57.5,"p":442,"u":5},{"lat":-55,"p":442,"u":8},{"lat":-52.5,"p":442,"u":12},{"lat":-50,"p":442,"u":15},{"lat":-47.5,"p":442,"u":15},{"lat":-45,"p":442,"u":18},{"lat":-42.5,"p":442,"u":18},{"lat":-40,"p":442,"u":15},
{"lat":-37.5,"p":442,"u":15},{"lat":-35,"p":442,"u":15},{"lat":-32.5,"p":442,"u":12},{"lat":-30,"p":442,"u":12},{"lat":-27.5,"p":442,"u":12},{"lat":-25,"p":442,"u":12},{"lat":-22.5,"p":442,"u":12},{"lat":-20,"p":442,"u":8},{"lat":-17.5,"p":442,"u":5},{"lat":-15,"p":442,"u":5},
{"lat":-12.5,"p":442,"u":5},{"lat":-10,"p":442,"u":2},{"lat":-7.5,"p":442,"u":2},{"lat":-5,"p":442,"u":-2},{"lat":-2.5,"p":442,"u":-2},{"lat":0,"p":442,"u":-2},{"lat":2.5,"p":442,"u":-2},{"lat":5,"p":442,"u":-2},{"lat":7.5,"p":442,"u":2},{"lat":10,"p":442,"u":2},
{"lat":12.5,"p":442,"u":5},{"lat":15,"p":442,"u":5},{"lat":17.5,"p":442,"u":5},{"lat":20,"p":442,"u":8},{"lat":22.5,"p":442,"u":12},{"lat":25,"p":442,"u":12},{"lat":27.5,"p":442,"u":12},{"lat":30,"p":442,"u":12},{"lat":32.5,"p":442,"u":12},{"lat":35,"p":442,"u":15},
{"lat":37.5,"p":442,"u":15},{"lat":40,"p":442,"u":15},{"lat":42.5,"p":442,"u":18},{"lat":45,"p":442,"u":18},{"lat":47.5,"p":442,"u":15},{"lat":50,"p":442,"u":15},{"lat":52.5,"p":442,"u":12},{"lat":55,"p":442,"u":8},{"lat":57.5,"p":442,"u":5},{"lat":60,"p":442,"u":5},
{"lat":62.5,"p":442,"u":5},{"lat":65,"p":442,"u":5},{"lat":67.5,"p":442,"u":2},{"lat":70,"p":442,"u":2},{"lat":72.5,"p":442,"u":2},{"lat":75,"p":442,"u":2},{"lat":77.5,"p":442,"u":2},{"lat":80,"p":442,"u":2},{"lat":82.5,"p":442,"u":2},{"lat":85,"p":442,"u":2},{"lat":87.5,"p":442,"u":2},

{"lat":-87.5,"p":490,"u":2},{"lat":-85,"p":490,"u":2},{"lat":-82.5,"p":490,"u":2},{"lat":-80,"p":490,"u":2},{"lat":-77.5,"p":490,"u":2},{"lat":-75,"p":490,"u":2},{"lat":-72.5,"p":490,"u":2},{"lat":-70,"p":490,"u":2},{"lat":-67.5,"p":490,"u":2},{"lat":-65,"p":490,"u":2},
{"lat":-62.5,"p":490,"u":5},{"lat":-60,"p":490,"u":5},{"lat":-57.5,"p":490,"u":5},{"lat":-55,"p":490,"u":8},{"lat":-52.5,"p":490,"u":8},{"lat":-50,"p":490,"u":12},{"lat":-47.5,"p":490,"u":15},{"lat":-45,"p":490,"u":15},{"lat":-42.5,"p":490,"u":15},{"lat":-40,"p":490,"u":15},
{"lat":-37.5,"p":490,"u":15},{"lat":-35,"p":490,"u":12},{"lat":-32.5,"p":490,"u":12},{"lat":-30,"p":490,"u":12},{"lat":-27.5,"p":490,"u":12},{"lat":-25,"p":490,"u":12},{"lat":-22.5,"p":490,"u":12},{"lat":-20,"p":490,"u":8},{"lat":-17.5,"p":490,"u":5},{"lat":-15,"p":490,"u":5},
{"lat":-12.5,"p":490,"u":5},{"lat":-10,"p":490,"u":2},{"lat":-7.5,"p":490,"u":2},{"lat":-5,"p":490,"u":-2},{"lat":-2.5,"p":490,"u":-2},{"lat":0,"p":490,"u":-2},{"lat":2.5,"p":490,"u":-2},{"lat":5,"p":490,"u":-2},{"lat":7.5,"p":490,"u":2},{"lat":10,"p":490,"u":2},
{"lat":12.5,"p":490,"u":5},{"lat":15,"p":490,"u":5},{"lat":17.5,"p":490,"u":5},{"lat":20,"p":490,"u":8},{"lat":22.5,"p":490,"u":12},{"lat":25,"p":490,"u":12},{"lat":27.5,"p":490,"u":12},{"lat":30,"p":490,"u":12},{"lat":32.5,"p":490,"u":12},{"lat":35,"p":490,"u":12},
{"lat":37.5,"p":490,"u":15},{"lat":40,"p":490,"u":15},{"lat":42.5,"p":490,"u":15},{"lat":45,"p":490,"u":15},{"lat":47.5,"p":490,"u":15},{"lat":50,"p":490,"u":12},{"lat":52.5,"p":490,"u":8},{"lat":55,"p":490,"u":8},{"lat":57.5,"p":490,"u":5},{"lat":60,"p":490,"u":5},
{"lat":62.5,"p":490,"u":5},{"lat":65,"p":490,"u":2},{"lat":67.5,"p":490,"u":2},{"lat":70,"p":490,"u":2},{"lat":72.5,"p":490,"u":2},{"lat":75,"p":490,"u":2},{"lat":77.5,"p":490,"u":2},{"lat":80,"p":490,"u":2},{"lat":82.5,"p":490,"u":2},{"lat":85,"p":490,"u":2},{"lat":87.5,"p":490,"u":2},

{"lat":-87.5,"p":543,"u":2},{"lat":-85,"p":543,"u":2},{"lat":-82.5,"p":543,"u":2},{"lat":-80,"p":543,"u":2},{"lat":-77.5,"p":543,"u":2},{"lat":-75,"p":543,"u":2},{"lat":-72.5,"p":543,"u":2},{"lat":-70,"p":543,"u":2},{"lat":-67.5,"p":543,"u":2},{"lat":-65,"p":543,"u":2},
{"lat":-62.5,"p":543,"u":2},{"lat":-60,"p":543,"u":5},{"lat":-57.5,"p":543,"u":5},{"lat":-55,"p":543,"u":5},{"lat":-52.5,"p":543,"u":8},{"lat":-50,"p":543,"u":12},{"lat":-47.5,"p":543,"u":12},{"lat":-45,"p":543,"u":15},{"lat":-42.5,"p":543,"u":15},{"lat":-40,"p":543,"u":12},
{"lat":-37.5,"p":543,"u":12},{"lat":-35,"p":543,"u":12},{"lat":-32.5,"p":543,"u":8},{"lat":-30,"p":543,"u":8},{"lat":-27.5,"p":543,"u":8},{"lat":-25,"p":543,"u":8},{"lat":-22.5,"p":543,"u":8},{"lat":-20,"p":543,"u":5},{"lat":-17.5,"p":543,"u":5},{"lat":-15,"p":543,"u":5},
{"lat":-12.5,"p":543,"u":5},{"lat":-10,"p":543,"u":2},{"lat":-7.5,"p":543,"u":2},{"lat":-5,"p":543,"u":2},{"lat":-2.5,"p":543,"u":-2},{"lat":0,"p":543,"u":-2},{"lat":2.5,"p":543,"u":-2},{"lat":5,"p":543,"u":2},{"lat":7.5,"p":543,"u":2},{"lat":10,"p":543,"u":2},
{"lat":12.5,"p":543,"u":5},{"lat":15,"p":543,"u":5},{"lat":17.5,"p":543,"u":5},{"lat":20,"p":543,"u":5},{"lat":22.5,"p":543,"u":8},{"lat":25,"p":543,"u":8},{"lat":27.5,"p":543,"u":8},{"lat":30,"p":543,"u":8},{"lat":32.5,"p":543,"u":8},{"lat":35,"p":543,"u":12},
{"lat":37.5,"p":543,"u":12},{"lat":40,"p":543,"u":12},{"lat":42.5,"p":543,"u":15},{"lat":45,"p":543,"u":15},{"lat":47.5,"p":543,"u":12},{"lat":50,"p":543,"u":12},{"lat":52.5,"p":543,"u":8},{"lat":55,"p":543,"u":5},{"lat":57.5,"p":543,"u":5},{"lat":60,"p":543,"u":5},
{"lat":62.5,"p":543,"u":2},{"lat":65,"p":543,"u":2},{"lat":67.5,"p":543,"u":2},{"lat":70,"p":543,"u":2},{"lat":72.5,"p":543,"u":2},{"lat":75,"p":543,"u":2},{"lat":77.5,"p":543,"u":2},{"lat":80,"p":543,"u":2},{"lat":82.5,"p":543,"u":2},{"lat":85,"p":543,"u":2},{"lat":87.5,"p":543,"u":2},

{"lat":-87.5,"p":601,"u":2},{"lat":-85,"p":601,"u":2},{"lat":-82.5,"p":601,"u":2},{"lat":-80,"p":601,"u":2},{"lat":-77.5,"p":601,"u":2},{"lat":-75,"p":601,"u":2},{"lat":-72.5,"p":601,"u":2},{"lat":-70,"p":601,"u":2},{"lat":-67.5,"p":601,"u":2},{"lat":-65,"p":601,"u":2},
{"lat":-62.5,"p":601,"u":2},{"lat":-60,"p":601,"u":5},{"lat":-57.5,"p":601,"u":5},{"lat":-55,"p":601,"u":5},{"lat":-52.5,"p":601,"u":8},{"lat":-50,"p":601,"u":8},{"lat":-47.5,"p":601,"u":12},{"lat":-45,"p":601,"u":15},{"lat":-42.5,"p":601,"u":12},{"lat":-40,"p":601,"u":12},
{"lat":-37.5,"p":601,"u":8},{"lat":-35,"p":601,"u":8},{"lat":-32.5,"p":601,"u":8},{"lat":-30,"p":601,"u":8},{"lat":-27.5,"p":601,"u":8},{"lat":-25,"p":601,"u":8},{"lat":-22.5,"p":601,"u":8},{"lat":-20,"p":601,"u":5},{"lat":-17.5,"p":601,"u":5},{"lat":-15,"p":601,"u":5},
{"lat":-12.5,"p":601,"u":5},{"lat":-10,"p":601,"u":2},{"lat":-7.5,"p":601,"u":2},{"lat":-5,"p":601,"u":2},{"lat":-2.5,"p":601,"u":-2},{"lat":0,"p":601,"u":-2},{"lat":2.5,"p":601,"u":-2},{"lat":5,"p":601,"u":2},{"lat":7.5,"p":601,"u":2},{"lat":10,"p":601,"u":2},
{"lat":12.5,"p":601,"u":5},{"lat":15,"p":601,"u":5},{"lat":17.5,"p":601,"u":5},{"lat":20,"p":601,"u":5},{"lat":22.5,"p":601,"u":8},{"lat":25,"p":601,"u":8},{"lat":27.5,"p":601,"u":8},{"lat":30,"p":601,"u":8},{"lat":32.5,"p":601,"u":8},{"lat":35,"p":601,"u":8},
{"lat":37.5,"p":601,"u":8},{"lat":40,"p":601,"u":12},{"lat":42.5,"p":601,"u":12},{"lat":45,"p":601,"u":15},{"lat":47.5,"p":601,"u":12},{"lat":50,"p":601,"u":8},{"lat":52.5,"p":601,"u":8},{"lat":55,"p":601,"u":5},{"lat":57.5,"p":601,"u":5},{"lat":60,"p":601,"u":2},
{"lat":62.5,"p":601,"u":2},{"lat":65,"p":601,"u":2},{"lat":67.5,"p":601,"u":2},{"lat":70,"p":601,"u":2},{"lat":72.5,"p":601,"u":2},{"lat":75,"p":601,"u":2},{"lat":77.5,"p":601,"u":2},{"lat":80,"p":601,"u":2},{"lat":82.5,"p":601,"u":2},{"lat":85,"p":601,"u":2},{"lat":87.5,"p":601,"u":2},

{"lat":-87.5,"p":666,"u":2},{"lat":-85,"p":666,"u":2},{"lat":-82.5,"p":666,"u":2},{"lat":-80,"p":666,"u":2},{"lat":-77.5,"p":666,"u":2},{"lat":-75,"p":666,"u":2},{"lat":-72.5,"p":666,"u":2},{"lat":-70,"p":666,"u":2},{"lat":-67.5,"p":666,"u":2},{"lat":-65,"p":666,"u":2},
{"lat":-62.5,"p":666,"u":2},{"lat":-60,"p":666,"u":2},{"lat":-57.5,"p":666,"u":5},{"lat":-55,"p":666,"u":5},{"lat":-52.5,"p":666,"u":8},{"lat":-50,"p":666,"u":8},{"lat":-47.5,"p":666,"u":12},{"lat":-45,"p":666,"u":12},{"lat":-42.5,"p":666,"u":12},{"lat":-40,"p":666,"u":8},
{"lat":-37.5,"p":666,"u":8},{"lat":-35,"p":666,"u":8},{"lat":-32.5,"p":666,"u":8},{"lat":-30,"p":666,"u":5},{"lat":-27.5,"p":666,"u":5},{"lat":-25,"p":666,"u":8},{"lat":-22.5,"p":666,"u":8},{"lat":-20,"p":666,"u":5},{"lat":-17.5,"p":666,"u":5},{"lat":-15,"p":666,"u":5},
{"lat":-12.5,"p":666,"u":5},{"lat":-10,"p":666,"u":2},{"lat":-7.5,"p":666,"u":2},{"lat":-5,"p":666,"u":2},{"lat":-2.5,"p":666,"u":-2},{"lat":0,"p":666,"u":-2},{"lat":2.5,"p":666,"u":-2},{"lat":5,"p":666,"u":2},{"lat":7.5,"p":666,"u":2},{"lat":10,"p":666,"u":2},
{"lat":12.5,"p":666,"u":5},{"lat":15,"p":666,"u":5},{"lat":17.5,"p":666,"u":5},{"lat":20,"p":666,"u":5},{"lat":22.5,"p":666,"u":8},{"lat":25,"p":666,"u":8},{"lat":27.5,"p":666,"u":5},{"lat":30,"p":666,"u":5},{"lat":32.5,"p":666,"u":8},{"lat":35,"p":666,"u":8},
{"lat":37.5,"p":666,"u":8},{"lat":40,"p":666,"u":8},{"lat":42.5,"p":666,"u":12},{"lat":45,"p":666,"u":12},{"lat":47.5,"p":666,"u":12},{"lat":50,"p":666,"u":8},{"lat":52.5,"p":666,"u":8},{"lat":55,"p":666,"u":5},{"lat":57.5,"p":666,"u":2},{"lat":60,"p":666,"u":2},
{"lat":62.5,"p":666,"u":2},{"lat":65,"p":666,"u":2},{"lat":67.5,"p":666,"u":2},{"lat":70,"p":666,"u":2},{"lat":72.5,"p":666,"u":2},{"lat":75,"p":666,"u":2},{"lat":77.5,"p":666,"u":2},{"lat":80,"p":666,"u":2},{"lat":82.5,"p":666,"u":2},{"lat":85,"p":666,"u":2},{"lat":87.5,"p":666,"u":2},

{"lat":-87.5,"p":738,"u":2},{"lat":-85,"p":738,"u":2},{"lat":-82.5,"p":738,"u":2},{"lat":-80,"p":738,"u":2},{"lat":-77.5,"p":738,"u":2},{"lat":-75,"p":738,"u":2},{"lat":-72.5,"p":738,"u":2},{"lat":-70,"p":738,"u":2},{"lat":-67.5,"p":738,"u":2},{"lat":-65,"p":738,"u":2},
{"lat":-62.5,"p":738,"u":2},{"lat":-60,"p":738,"u":2},{"lat":-57.5,"p":738,"u":2},{"lat":-55,"p":738,"u":5},{"lat":-52.5,"p":738,"u":8},{"lat":-50,"p":738,"u":8},{"lat":-47.5,"p":738,"u":8},{"lat":-45,"p":738,"u":12},{"lat":-42.5,"p":738,"u":8},{"lat":-40,"p":738,"u":8},
{"lat":-37.5,"p":738,"u":8},{"lat":-35,"p":738,"u":8},{"lat":-32.5,"p":738,"u":5},{"lat":-30,"p":738,"u":5},{"lat":-27.5,"p":738,"u":5},{"lat":-25,"p":738,"u":5},{"lat":-22.5,"p":738,"u":5},{"lat":-20,"p":738,"u":5},{"lat":-17.5,"p":738,"u":5},{"lat":-15,"p":738,"u":5},
{"lat":-12.5,"p":738,"u":5},{"lat":-10,"p":738,"u":2},{"lat":-7.5,"p":738,"u":2},{"lat":-5,"p":738,"u":2},{"lat":-2.5,"p":738,"u":2},{"lat":0,"p":738,"u":-2},{"lat":2.5,"p":738,"u":2},{"lat":5,"p":738,"u":2},{"lat":7.5,"p":738,"u":2},{"lat":10,"p":738,"u":2},
{"lat":12.5,"p":738,"u":5},{"lat":15,"p":738,"u":5},{"lat":17.5,"p":738,"u":5},{"lat":20,"p":738,"u":5},{"lat":22.5,"p":738,"u":5},{"lat":25,"p":738,"u":5},{"lat":27.5,"p":738,"u":5},{"lat":30,"p":738,"u":5},{"lat":32.5,"p":738,"u":5},{"lat":35,"p":738,"u":8},
{"lat":37.5,"p":738,"u":8},{"lat":40,"p":738,"u":8},{"lat":42.5,"p":738,"u":8},{"lat":45,"p":738,"u":12},{"lat":47.5,"p":738,"u":8},{"lat":50,"p":738,"u":8},{"lat":52.5,"p":738,"u":8},{"lat":55,"p":738,"u":5},{"lat":57.5,"p":738,"u":2},{"lat":60,"p":738,"u":2},
{"lat":62.5,"p":738,"u":2},{"lat":65,"p":738,"u":2},{"lat":67.5,"p":738,"u":2},{"lat":70,"p":738,"u":2},{"lat":72.5,"p":738,"u":2},{"lat":75,"p":738,"u":2},{"lat":77.5,"p":738,"u":2},{"lat":80,"p":738,"u":2},{"lat":82.5,"p":738,"u":2},{"lat":85,"p":738,"u":2},{"lat":87.5,"p":738,"u":2},

{"lat":-87.5,"p":818,"u":2},{"lat":-85,"p":818,"u":-2},{"lat":-82.5,"p":818,"u":-2},{"lat":-80,"p":818,"u":-2},{"lat":-77.5,"p":818,"u":-2},{"lat":-75,"p":818,"u":-2},{"lat":-72.5,"p":818,"u":-2},{"lat":-70,"p":818,"u":-2},{"lat":-67.5,"p":818,"u":-2},{"lat":-65,"p":818,"u":-2},
{"lat":-62.5,"p":818,"u":2},{"lat":-60,"p":818,"u":2},{"lat":-57.5,"p":818,"u":2},{"lat":-55,"p":818,"u":5},{"lat":-52.5,"p":818,"u":5},{"lat":-50,"p":818,"u":8},{"lat":-47.5,"p":818,"u":8},{"lat":-45,"p":818,"u":8},{"lat":-42.5,"p":818,"u":8},{"lat":-40,"p":818,"u":8},
{"lat":-37.5,"p":818,"u":5},{"lat":-35,"p":818,"u":2},{"lat":-32.5,"p":818,"u":2},{"lat":-30,"p":818,"u":2},{"lat":-27.5,"p":818,"u":2},{"lat":-25,"p":818,"u":2},{"lat":-22.5,"p":818,"u":2},{"lat":-20,"p":818,"u":2},{"lat":-17.5,"p":818,"u":2},{"lat":-15,"p":818,"u":2},
{"lat":-12.5,"p":818,"u":2},{"lat":-10,"p":818,"u":2},{"lat":-7.5,"p":818,"u":2},{"lat":-5,"p":818,"u":2},{"lat":-2.5,"p":818,"u":2},{"lat":0,"p":818,"u":-2},{"lat":2.5,"p":818,"u":2},{"lat":5,"p":818,"u":2},{"lat":7.5,"p":818,"u":2},{"lat":10,"p":818,"u":2},
{"lat":12.5,"p":818,"u":2},{"lat":15,"p":818,"u":2},{"lat":17.5,"p":818,"u":2},{"lat":20,"p":818,"u":2},{"lat":22.5,"p":818,"u":2},{"lat":25,"p":818,"u":2},{"lat":27.5,"p":818,"u":2},{"lat":30,"p":818,"u":2},{"lat":32.5,"p":818,"u":2},{"lat":35,"p":818,"u":5},
{"lat":37.5,"p":818,"u":5},{"lat":40,"p":818,"u":8},{"lat":42.5,"p":818,"u":8},{"lat":45,"p":818,"u":8},{"lat":47.5,"p":818,"u":8},{"lat":50,"p":818,"u":8},{"lat":52.5,"p":818,"u":5},{"lat":55,"p":818,"u":2},{"lat":57.5,"p":818,"u":2},{"lat":60,"p":818,"u":2},
{"lat":62.5,"p":818,"u":2},{"lat":65,"p":818,"u":2},{"lat":67.5,"p":818,"u":-2},{"lat":70,"p":818,"u":-2},{"lat":72.5,"p":818,"u":-2},{"lat":75,"p":818,"u":-2},{"lat":77.5,"p":818,"u":-2},{"lat":80,"p":818,"u":-2},{"lat":82.5,"p":818,"u":-2},{"lat":85,"p":818,"u":-2},{"lat":87.5,"p":818,"u":-2},

{"lat":-87.5,"p":907,"u":-2},{"lat":-85,"p":907,"u":-2},{"lat":-82.5,"p":907,"u":-2},{"lat":-80,"p":907,"u":-2},{"lat":-77.5,"p":907,"u":-2},{"lat":-75,"p":907,"u":-2},{"lat":-72.5,"p":907,"u":-2},{"lat":-70,"p":907,"u":-2},{"lat":-67.5,"p":907,"u":-2},{"lat":-65,"p":907,"u":-2},
{"lat":-62.5,"p":907,"u":-2},{"lat":-60,"p":907,"u":2},{"lat":-57.5,"p":907,"u":2},{"lat":-55,"p":907,"u":2},{"lat":-52.5,"p":907,"u":5},{"lat":-50,"p":907,"u":5},{"lat":-47.5,"p":907,"u":5},{"lat":-45,"p":907,"u":5},{"lat":-42.5,"p":907,"u":5},{"lat":-40,"p":907,"u":5},
{"lat":-37.5,"p":907,"u":2},{"lat":-35,"p":907,"u":2},{"lat":-32.5,"p":907,"u":2},{"lat":-30,"p":907,"u":-2},{"lat":-27.5,"p":907,"u":-2},{"lat":-25,"p":907,"u":-2},{"lat":-22.5,"p":907,"u":-2},{"lat":-20,"p":907,"u":-2},{"lat":-17.5,"p":907,"u":-2},{"lat":-15,"p":907,"u":-2},
{"lat":-12.5,"p":907,"u":-2},{"lat":-10,"p":907,"u":-2},{"lat":-7.5,"p":907,"u":-2},{"lat":-5,"p":907,"u":-2},{"lat":-2.5,"p":907,"u":-2},{"lat":0,"p":907,"u":-2},{"lat":2.5,"p":907,"u":-2},{"lat":5,"p":907,"u":-2},{"lat":7.5,"p":907,"u":-2},{"lat":10,"p":907,"u":-2},
{"lat":12.5,"p":907,"u":-2},{"lat":15,"p":907,"u":-2},{"lat":17.5,"p":907,"u":-2},{"lat":20,"p":907,"u":-2},{"lat":22.5,"p":907,"u":-2},{"lat":25,"p":907,"u":-2},{"lat":27.5,"p":907,"u":-2},{"lat":30,"p":907,"u":-2},{"lat":32.5,"p":907,"u":2},{"lat":35,"p":907,"u":2},
{"lat":37.5,"p":907,"u":2},{"lat":40,"p":907,"u":5},{"lat":42.5,"p":907,"u":5},{"lat":45,"p":907,"u":5},{"lat":47.5,"p":907,"u":5},{"lat":50,"p":907,"u":5},{"lat":52.5,"p":907,"u":5},{"lat":55,"p":907,"u":2},{"lat":57.5,"p":907,"u":2},{"lat":60,"p":907,"u":2},
{"lat":62.5,"p":907,"u":-2},{"lat":65,"p":907,"u":-2},{"lat":67.5,"p":907,"u":-2},{"lat":70,"p":907,"u":-2},{"lat":72.5,"p":907,"u":-2},{"lat":75,"p":907,"u":-2},{"lat":77.5,"p":907,"u":-2},{"lat":80,"p":907,"u":-2},{"lat":82.5,"p":907,"u":-2},{"lat":85,"p":907,"u":-2},{"lat":87.5,"p":907,"u":-2}
]},
"mark": {"type": "rect", "width": 10, "height": 16, "clip": true},
"encoding": {
"x": {"field": "lat", "type": "quantitative", "scale": {"domain": [-88.75, 88.75], "nice": false, "zero": false}, "axis": {"values": [-80,-60,-40,-20,0,20,40,60,80], "format": "d", "tickSize": 4, "labelFontSize": 12, "labelPadding": 0, "title": "Latitude", "titleFontSize": 12, "titlePadding": 2}},
"y": {"field": "p", "type": "quantitative", "scale": {"type": "log", "domain": [100, 1000], "reverse": true, "nice": false}, "axis": {"values": [100,200,300,400,500,600,700,800,900,1000], "labelExpr": "datum.value == 100 ? '10²' : datum.value == 1000 ? '10³' : indexof([200,300,400,600], datum.value) >= 0 ? (datum.value / 100) + ' × 10²' : ''", "tickSize": {"condition": {"test": "datum.value == 100 || datum.value == 1000", "value": 7}, "value": 4}, "labelFontSize": 13, "labelPadding": 3, "title": "Pressure [hPa]", "titleFont": "DejaVu Sans Condensed", "titleFontSize": 11, "titlePadding": 14}},
"color": {"field": "u", "type": "quantitative", "legend": null, "scale": {"type": "threshold", "domain": [-50,-46.667,-43.333,-40,-36.667,-33.333,-30,-26.667,-23.333,-20,-16.667,-13.333,-10,-6.667,-3.333,0,3.333,6.667,10,13.333,16.667,20,23.333,26.667,30,33.333,36.667,40,43.333,46.667,50], "range": ["#053061","#0a396e","#134b87","#1c5da0","#276eb0","#327db8","#3d8cbf","#509bc8","#6bacd1","#85bdda","#9dcae1","#b2d5e7","#c7e0ed","#d7e8f1","#e4eef4","#f1f4f6","#f8f2ef","#fae9df","#fce0cf","#fcd2bc","#f9c0a5","#f6ae8e","#ef9a79","#e58368","#db6c56","#d05447","#c43c3c","#b82431","#a61429","#8d0c25","#740421","#67001f"]}}
}
},
{
"width": 27, "height": 338,
"view": {"stroke": null},
"layer": [
{
"data": {"values": [{"lo":-50,"hi":-46.667,"mid":-48.333},{"lo":-46.667,"hi":-43.333,"mid":-45},{"lo":-43.333,"hi":-40,"mid":-41.667},{"lo":-40,"hi":-36.667,"mid":-38.333},{"lo":-36.667,"hi":-33.333,"mid":-35},{"lo":-33.333,"hi":-30,"mid":-31.667},{"lo":-30,"hi":-26.667,"mid":-28.333},{"lo":-26.667,"hi":-23.333,"mid":-25},{"lo":-23.333,"hi":-20,"mid":-21.667},{"lo":-20,"hi":-16.667,"mid":-18.333},{"lo":-16.667,"hi":-13.333,"mid":-15},{"lo":-13.333,"hi":-10,"mid":-11.667},{"lo":-10,"hi":-6.667,"mid":-8.333},{"lo":-6.667,"hi":-3.333,"mid":-5},{"lo":-3.333,"hi":0,"mid":-1.667},{"lo":0,"hi":3.333,"mid":1.667},{"lo":3.333,"hi":6.667,"mid":5},{"lo":6.667,"hi":10,"mid":8.333},{"lo":10,"hi":13.333,"mid":11.667},{"lo":13.333,"hi":16.667,"mid":15},{"lo":16.667,"hi":20,"mid":18.333},{"lo":20,"hi":23.333,"mid":21.667},{"lo":23.333,"hi":26.667,"mid":25},{"lo":26.667,"hi":30,"mid":28.333},{"lo":30,"hi":33.333,"mid":31.667},{"lo":33.333,"hi":36.667,"mid":35},{"lo":36.667,"hi":40,"mid":38.333},{"lo":40,"hi":43.333,"mid":41.667},{"lo":43.333,"hi":46.667,"mid":45},{"lo":46.667,"hi":50,"mid":48.333}]},
"mark": {"type": "rect"},
"encoding": {
"y": {"field": "lo", "type": "quantitative", "title": "U [ms⁻¹]", "scale": {"domain": [-55.36, 55.36], "nice": false, "zero": false}, "axis": {"orient": "right", "values": [-40,-26.6667,-13.3333,0,13.3333,26.6667,40], "format": ".2f", "tickSize": 5, "labelFontSize": 14, "labelPadding": 3, "titleAngle": 270, "titleFontSize": 12, "titlePadding": 26}},
"y2": {"field": "hi"},
"color": {"field": "mid", "type": "quantitative", "legend": null, "scale": {"type": "threshold", "domain": [-50,-46.667,-43.333,-40,-36.667,-33.333,-30,-26.667,-23.333,-20,-16.667,-13.333,-10,-6.667,-3.333,0,3.333,6.667,10,13.333,16.667,20,23.333,26.667,30,33.333,36.667,40,43.333,46.667,50], "range": ["#053061","#0a396e","#134b87","#1c5da0","#276eb0","#327db8","#3d8cbf","#509bc8","#6bacd1","#85bdda","#9dcae1","#b2d5e7","#c7e0ed","#d7e8f1","#e4eef4","#f1f4f6","#f8f2ef","#fae9df","#fce0cf","#fcd2bc","#f9c0a5","#f6ae8e","#ef9a79","#e58368","#db6c56","#d05447","#c43c3c","#b82431","#a61429","#8d0c25","#740421","#67001f"]}}
}
},
{
"data": {"values": [{"lo": -50, "hi": 50}]},
"mark": {"type": "rect", "filled": false, "stroke": "#000", "strokeWidth": 0.8},
"encoding": {"y": {"field": "lo", "type": "quantitative", "title": "U [ms⁻¹]"}, "y2": {"field": "hi"}}
},
{
"data": {"values": [{"v": 50}]},
"mark": {"type": "point", "shape": "M-1,0L0,-1.215L1,0", "size": 729, "filled": true, "opacity": 1, "fill": "#67001f", "stroke": "#000", "strokeWidth": 0.8},
"encoding": {"y": {"field": "v", "type": "quantitative", "title": "U [ms⁻¹]"}}
},
{
"data": {"values": [{"v": -50}]},
"mark": {"type": "point", "shape": "M-1,0L0,1.215L1,0", "size": 729, "filled": true, "opacity": 1, "fill": "#053061", "stroke": "#000", "strokeWidth": 0.8},
"encoding": {"y": {"field": "v", "type": "quantitative", "title": "U [ms⁻¹]"}}
}
]
}
]
}
